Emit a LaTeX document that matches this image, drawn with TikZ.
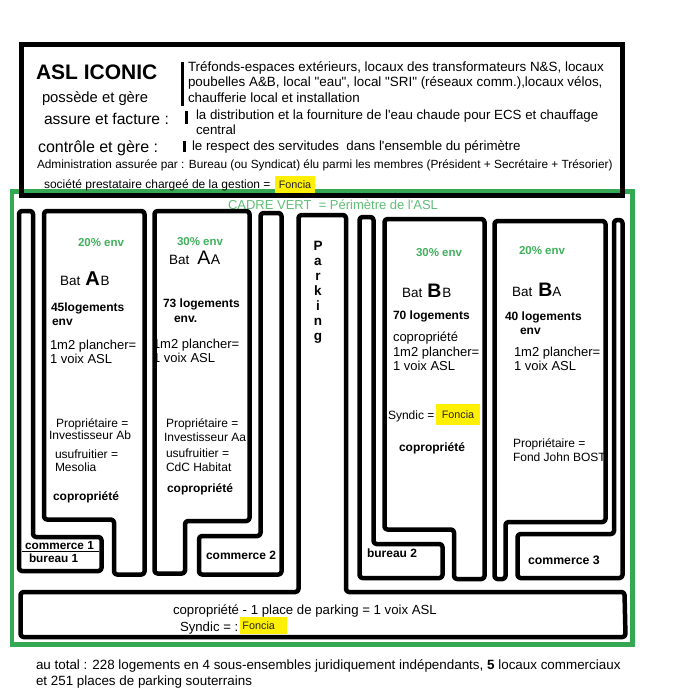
\documentclass[tikz,border=0pt]{standalone}
\usepackage{fontspec}
\setmainfont{Liberation Sans}[Ligatures=TeXOff]
\newcommand{\fsz}[1]{\fontsize{#1}{#1}\selectfont}
\definecolor{frame}{RGB}{52,168,83}
\definecolor{pct}{RGB}{64,176,92}
\definecolor{cadre}{RGB}{96,190,120}
\definecolor{hlyellow}{RGB}{255,240,0}
\begin{document}
\begin{tikzpicture}[x=1pt,y=-1pt,
  txt/.style={anchor=base west, inner sep=0pt, outer sep=0pt},
  wall/.style={draw=black, line width=4.5pt, rounded corners=3pt, line join=round},
  foncia/.style={fill=hlyellow, inner sep=0pt, font=\fsz{10.8}, text=black!85},
  pctx/.style={txt, font=\bfseries\fsz{11.5}, text=pct},
  bt/.style={txt, font=\bfseries\fsz{12}},
  nt/.style={txt, font=\fsz{12}},
  mt/.style={txt, font=\fsz{13}}]
\useasboundingbox (0,0) rectangle (673,696);
\fill[white] (0,0) rectangle (673,696);

% green perimeter and top black box
\draw[draw=frame, line width=4.5pt] (12,191.5) rectangle (632.5,644.5);
\draw[draw=black, line width=5pt] (21,44) rectangle (622.5,195.5);

% header texts
\node[txt, font=\bfseries\fsz{21}] (asl) at (36,79) {ASL ICONIC};
\node[txt, font=\fsz{14.8}] (poss) at (42,102) {possède et gère};
\node[txt, font=\fsz{15.6}] (assure) at (44,124) {assure et facture :};
\node[txt, font=\fsz{16}] (ctrl) at (38,152) {contrôle et gère :};
\fill (181,62) rectangle (184,106);
\fill (185,111) rectangle (188,124);
\fill (183,141) rectangle (185.5,152);
\node[txt, font=\fsz{13.4}] (l1) at (188,71.5) {Tréfonds-espaces extérieurs, locaux des transformateurs N\&S, locaux};
\node[txt, font=\fsz{13.4}] (l2) at (188,86.5) {poubelles A\&B, local "eau", local "SRI" (réseaux comm.),locaux vélos,};
\node[txt, font=\fsz{13.4}] (l3) at (188,102.5) {chaufferie local et installation};
\node[txt, font=\fsz{13.3}] (l4) at (196,119.5) {la distribution et la fourniture de l'eau chaude pour ECS et chauffage};
\node[txt, font=\fsz{13.3}] (l5) at (196,134.5) {central};
\node[txt, font=\fsz{13.3}] (l6) at (192,150.5) {le respect des servitudes\ \ dans l'ensemble du périmètre};
\node[txt, font=\fsz{11.85}] (adm) at (37,168.5) {Administration assurée par : Bureau (ou Syndicat) élu parmi les membres (Président + Secrétaire + Trésorier)};
\node[txt, font=\fsz{12}] (soc) at (44,188.5) {société prestataire chargeé de la gestion =};
\node[foncia, minimum width=40pt, minimum height=17pt] (f1) at (295,184.5) {Foncia};

\node[txt, font=\fsz{13}, text=cadre] (cadre) at (228,209.5) {CADRE VERT\ \ = Périmètre de l'ASL};

% Bat AB
\node[pctx] (pab) at (78,246) {20\% env};
\node[txt] (batab) at (60,285) {\fsz{13.5}Bat\hspace{5pt}{\bfseries\fsz{20}A}\hspace{1pt}B};
\node[bt] (lab) at (51,311) {45logements};
\node[bt] (eab) at (52,325) {env};
\node[mt] (mab1) at (50,349) {1m2 plancher=};
\node[mt] (mab2) at (50,363) {1 voix ASL};
\node[nt] (pab1) at (56,427) {Propriétaire =};
\node[nt] (pab2) at (49,439) {Investisseur Ab};
\node[nt] (uab1) at (55,458) {usufruitier =};
\node[nt] (uab2) at (55,471) {Mesolia};
\node[bt] (cab) at (53,500) {copropriété};

% Bat AA
\node[pctx] (paa) at (177,245) {30\% env};
\node[txt] (bataa) at (169,264) {\fsz{13.5}Bat\hspace{8pt}{\fsz{19.5}A}\hspace{0.5pt}{\fsz{14}A}};
\node[bt] (laa) at (163,307) {73 logements};
\node[bt] (eaa) at (174,322) {env.};
\node[mt] (maa1) at (153,348) {1m2 plancher=};
\node[mt] (maa2) at (153,362) {1 voix ASL};
\node[nt] (paa1) at (166,427) {Propriétaire =};
\node[nt] (paa2) at (164,441) {Investisseur Aa};
\node[nt] (uaa1) at (166,457) {usufruitier =};
\node[nt] (uaa2) at (166,471) {CdC Habitat};
\node[bt] (caa) at (167,492) {copropriété};

% Parking
\foreach \ch [count=\i from 0] in {P,a,r,k,i,n,g}
  \node[anchor=base, inner sep=0pt, font=\bfseries\fsz{13.5}] (pk\i) at (318,250+15*\i) {\ch};

% Bat BB
\node[pctx] (pbb) at (416,256) {30\% env};
\node[txt] (batbb) at (402,297) {\fsz{13.5}Bat\hspace{5pt}{\bfseries\fsz{19.5}B}\hspace{1pt}B};
\node[bt] (lbb) at (393,319) {70 logements};
\node[mt] (cbb0) at (393,341) {copropriété};
\node[mt] (mbb1) at (393,356) {1m2 plancher=};
\node[mt] (mbb2) at (393,370) {1 voix ASL};
\node[nt] (sbb) at (388,419) {Syndic =};
\node[foncia, minimum width=44pt, minimum height=21pt] (f2) at (458,414.5) {Foncia};
\node[bt] (cbb) at (399,451) {copropriété};

% Bat BA
\node[pctx] (pba) at (519,254) {20\% env};
\node[txt] (batba) at (512,296) {\fsz{13.5}Bat\hspace{6pt}{\bfseries\fsz{19.5}B}{\fsz{13.5}A}};
\node[bt] (lba) at (505,320) {40 logements};
\node[bt] (eba) at (520,334) {env};
\node[mt] (mba1) at (514,356) {1m2 plancher=};
\node[mt] (mba2) at (514,370) {1 voix ASL};
\node[nt] (pba1) at (513,447) {Propriétaire =};
\node[nt] (pba2) at (513,461) {Fond John BOST};

% shops and offices
\node[txt, font=\bfseries\fsz{11.8}] (com1) at (25,549) {commerce 1};
\node[txt, font=\bfseries\fsz{11.8}] (bur1) at (29,562) {bureau 1};
\draw[line width=1.5pt] (22,551.5) -- (99,551.5);
\node[bt] (com2) at (206,559) {commerce 2};
\node[bt] (bur2) at (367,557) {bureau 2};
\node[txt, font=\bfseries\fsz{12.3}] (com3) at (528,564) {commerce 3};

% parking slab texts
\node[txt, font=\fsz{13.2}] (slab1) at (173,614) {copropriété - 1 place de parking = 1 voix ASL};
\node[txt, font=\fsz{13.2}] (slab2) at (180,631.5) {Syndic = :};
\node[foncia, minimum width=47pt, minimum height=17pt, anchor=west] (f3) at (240,625.5) {\hspace{-10pt}Foncia};

% footer
\node[txt, font=\fsz{13.4}] (tot1) at (36,669.5) {au total : 228 logements en 4 sous-ensembles juridiquement indépendants, {\bfseries 5} locaux commerciaux};
\node[txt, font=\fsz{13.4}] (tot2) at (36,685.5) {et 251 places de parking souterrains};

% building outlines
\draw[wall] (19,211) -- (33,211) -- (33,537) -- (101.5,537) -- (101.5,571) -- (19,571) -- cycle;
\draw[wall] (44,211) -- (144.5,211) -- (144.5,574.5) -- (114,574.5) -- (114,519.5) -- (44,519.5) -- cycle;
\draw[wall] (154.5,211) -- (249.5,211) -- (249.5,521) -- (185,521) -- (185,573.5) -- (154.5,573.5) -- cycle;
\draw[wall] (260.5,213) -- (281.5,213) -- (281.5,574.5) -- (199,574.5) -- (199,536) -- (260.5,536) -- cycle;
\draw[wall] (298.5,215) -- (346,215) -- (346,592) -- (624.5,592) -- (625.5,637) -- (20.5,637) -- (20.5,592) -- (298.5,592) -- cycle;
\draw[wall] (359.5,217) -- (373.5,217) -- (373.5,544) -- (442.5,544) -- (442.5,578) -- (359.5,578) -- cycle;
\draw[wall] (384.5,219) -- (484.5,219) -- (484.5,579) -- (454,579) -- (454,529.5) -- (384.5,529.5) -- cycle;
\draw[wall] (494.5,221) -- (605.5,221) -- (605.5,522) -- (505.5,522) -- (505.5,579) -- (494.5,579) -- cycle;
\draw[wall] (614,220) -- (622.5,220) -- (622.5,578) -- (517.5,578) -- (517.5,534) -- (614,534) -- cycle;
\end{tikzpicture}
\end{document}
